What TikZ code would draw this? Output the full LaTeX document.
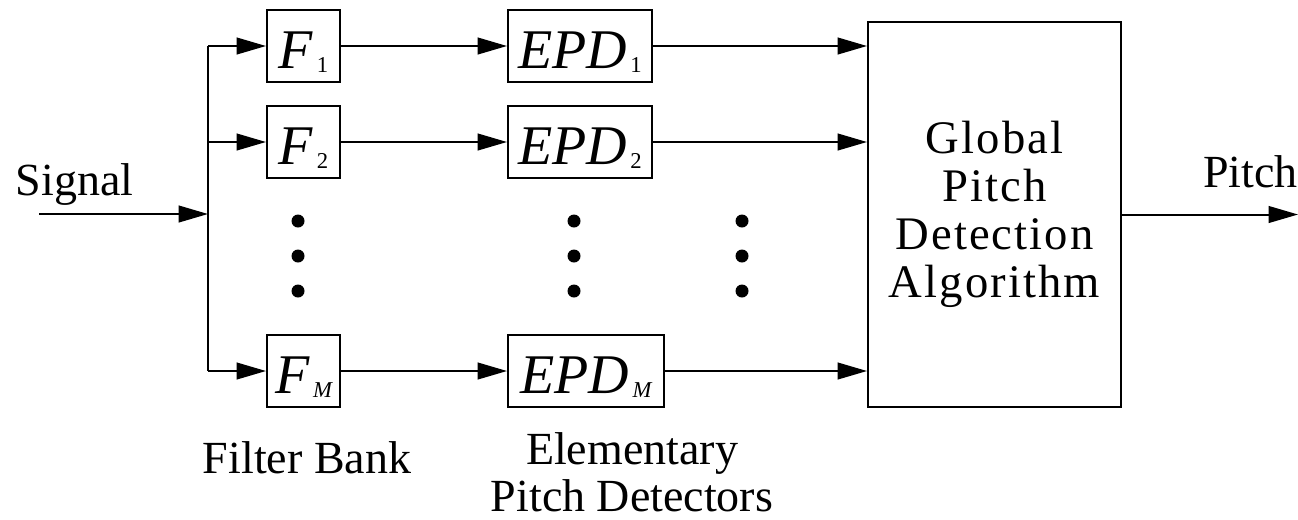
\documentclass[tikz,border=0pt]{standalone}
\usepackage{fontspec}
\setmainfont{Liberation Serif}
\newfontfamily\spacedfont[LetterSpace=4.5]{Liberation Serif}
\usetikzlibrary{arrows.meta}
% lowered index for the block names
\newcommand\blockidx[1]{\kern2.5pt\raisebox{-3pt}{\fontsize{17}{17}\selectfont #1}}

\begin{document}
\begin{tikzpicture}[x=0.75pt,y=-0.75pt,
  line width=1.5pt,
  flow/.style={-{Triangle[length=22pt,width=12.5pt]}},
  block/.style={draw, rectangle, inner xsep=0pt, inner ysep=0pt,
    text height=43.5pt, text depth=10.5pt,
    font=\fontsize{42}{42}\selectfont},
  filterbox/.style={block, minimum width=54.75pt},
  detbox/.style={block, minimum width=108pt},
  tag/.style={font=\fontsize{34.5}{36}\selectfont, inner sep=0pt},
  ellipsisdot/.style={circle, fill, inner sep=0pt, minimum size=9.75pt}
]
\useasboundingbox (0,0) rectangle (1298,519);

% input and distribution bus
\node[tag, anchor=base west] (sig) at (15,195) {Signal};
\coordinate (in) at (39,214);
\coordinate (split) at (208,214);
\coordinate (b1) at (208,46);
\coordinate (b2) at (208,142);
\coordinate (bM) at (208,371);

% filter bank
\node[filterbox] (f1) at (303.5,46)  {\itshape F\/\blockidx{\upshape 1}};
\node[filterbox] (f2) at (303.5,142) {\itshape F\/\blockidx{\upshape 2}};
\node[filterbox] (fM) at (303.5,371) {\itshape F\/\blockidx{M}};

% elementary pitch detectors
\node[detbox] (e1) at (580,46)  {\itshape EPD\/\blockidx{\upshape 1}};
\node[detbox] (e2) at (580,142) {\itshape EPD\/\blockidx{\upshape 2}};
\node[detbox, minimum width=117pt] (eM) at (586,371) {\itshape EPD\/\blockidx{M}};

% global decision block
\node[draw, rectangle, minimum width=189.75pt, minimum height=288.75pt,
  align=center, inner sep=0pt,
  font=\spacedfont\fontsize{35}{36}\selectfont] (gpda) at (994.5,214.5)
  {Global\\Pitch\\Detection\\Algorithm};

\coordinate (out) at (1298,214.5);
\node[tag, anchor=base west] (pitch) at (1202,187) {Pitch};

% connectors
\draw[flow] (in) -- (split);
\draw (b1) -- (bM);
\draw[flow] (b1) -- (f1);
\draw[flow] (b2) -- (f2);
\draw[flow] (bM) -- (fM);
\draw[flow] (f1) -- (e1);
\draw[flow] (f2) -- (e2);
\draw[flow] (fM) -- (eM);
\draw[flow] (e1) -- (e1 -| gpda.west);
\draw[flow] (e2) -- (e2 -| gpda.west);
\draw[flow] (eM) -- (eM -| gpda.west);
\draw[flow] (gpda.east |- out) -- (out);

% vertical ellipses
\foreach \cx in {298,574,742}
  \foreach \cy in {221,256,291}
    \node[ellipsisdot] at (\cx,\cy) {};

% captions
\node[tag, anchor=base] (fbank) at (307,473) {Filter Bank};
\node[tag, anchor=base] (elem) at (632,464) {Elementary};
\node[tag, anchor=base] (pdet) at (632,511) {Pitch Detectors};
\end{tikzpicture}
\end{document}
